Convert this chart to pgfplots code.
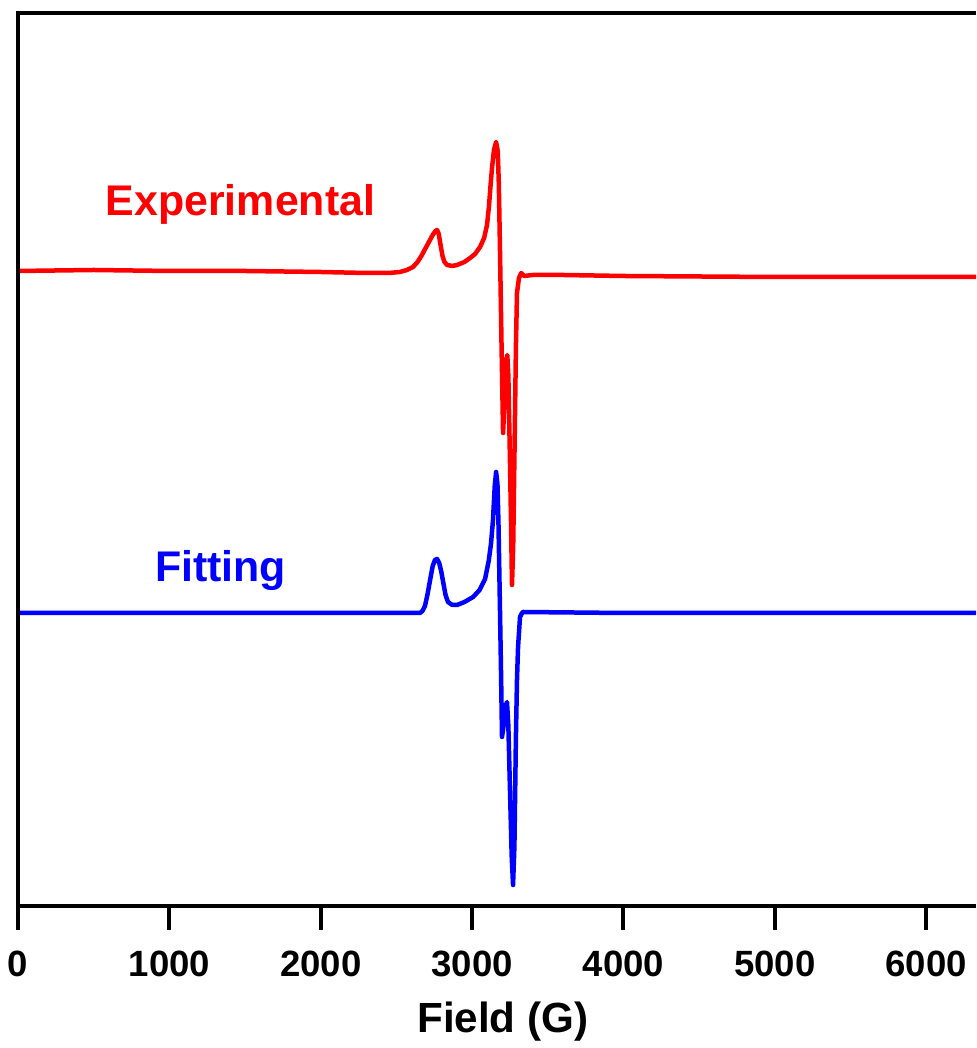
\documentclass[border=0pt]{standalone}
\usepackage{fontspec}
\setmainfont{Liberation Sans}
\usepackage{pgfplots}
\pgfplotsset{compat=1.18}
\begin{document}
\begin{tikzpicture}
\begin{axis}[
  name=ax,
  scale only axis,
  width=95.8mm, height=89.3mm,
  xmin=0, xmax=6330, ymin=0, ymax=893,
  axis line style={draw=none},
  clip=false,
  xtick={0,1000,2000,3000,4000,5000,6000},
  ytick=\empty,
  xtick pos=bottom,
  tick align=outside,
  major tick length=2.4mm,
  every tick/.style={black, line width=0.4mm},
  /pgf/number format/assume math mode=true,
  /pgf/number format/1000 sep={},
  xticklabel style={font=\bfseries\fontsize{10.4}{12}\selectfont, anchor=base, yshift=-4.7mm},
  xlabel={Field (G)},
  xlabel style={font=\bfseries\fontsize{12}{14}\selectfont, at={(axis description cs:0.506,0)}, anchor=base, yshift=-12.7mm},
]
\addplot[red, line width=0.45mm, line join=round] coordinates {
(0,635) (500,636) (1000,635) (1500,635) (2000,634) (2300,633) (2450,633) (2524,634) (2570,636) (2610,639) (2640,644) (2665,650) (2690,657) (2715,664) (2740,671) (2758,675) (2769,676) (2780,672) (2792,661) (2805,650) (2818,644) (2835,641) (2870,640) (2901,641) (2950,644) (2987,648) (3020,652) (3053,659) (3080,668) (3099,681) (3112,700) (3122,720) (3132,738) (3145,756) (3159,764) (3170,755) (3177,722) (3185,653) (3195,560) (3205,473) (3215,505) (3225,545) (3233,551) (3240,530) (3250,450) (3258,380) (3264,321) (3272,360) (3282,470) (3290,560) (3297,613) (3310,628) (3325,633) (3345,630) (3400,631) (3600,631) (4000,630) (5000,629) (6000,629) (6330,629)
};
\addplot[blue, line width=0.45mm, line join=round] coordinates {
(0,293) (1000,293) (2000,293) (2600,293) (2656,293) (2672,295) (2689,300) (2705,311) (2723,326) (2740,340) (2755,346) (2769,347) (2783,343) (2796,335) (2808,325) (2825,311) (2841,304) (2870,301) (2901,301) (2950,304) (3007,309) (3050,316) (3086,327) (3110,345) (3125,362) (3138,385) (3150,420) (3159,434) (3168,422) (3175,380) (3185,293) (3192,230) (3198,169) (3210,182) (3222,200) (3231,204) (3240,180) (3250,120) (3262,50) (3271,21) (3280,60) (3290,170) (3297,226) (3304,259) (3317,289) (3330,293) (3337,294) (4000,293) (5000,293) (6000,293) (6330,293)
};
\draw[black, line width=0.4mm, line join=miter] (rel axis cs:1,1) -- (rel axis cs:0,1) -- (rel axis cs:0,0) -- (rel axis cs:1,0);
\node[red, font=\bfseries\fontsize{12.2}{14}\selectfont, anchor=base] at (axis cs:1470,690) {Experimental};
\node[blue, font=\bfseries\fontsize{12.2}{14}\selectfont, anchor=base] at (axis cs:1338,324) {Fitting};
\end{axis}
\pgfresetboundingbox
\path ([xshift=-1.8mm, yshift=-14.2mm]ax.south west) rectangle ([yshift=1.3mm]ax.north east);
\end{tikzpicture}
\end{document}
